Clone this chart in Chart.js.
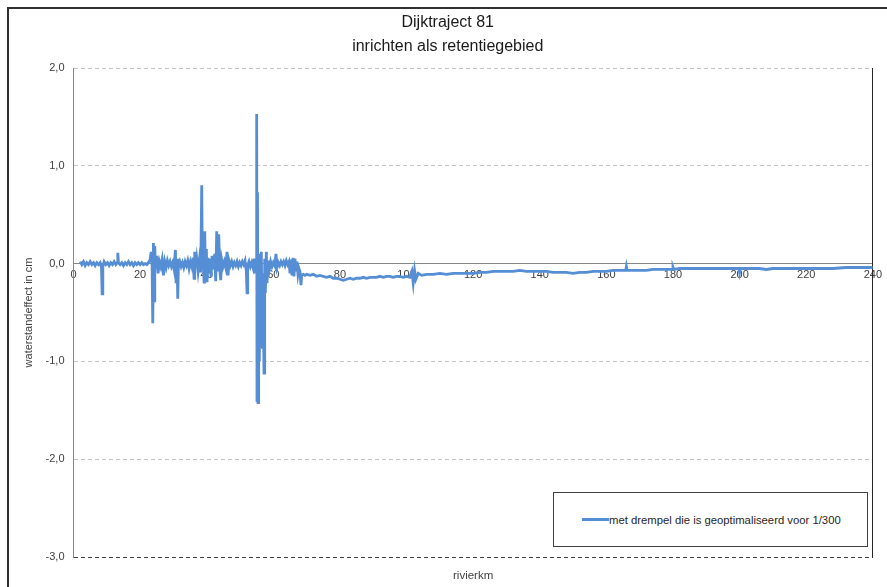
<!DOCTYPE html>
<html>
<head>
<meta charset="utf-8">
<title>Dijktraject 81</title>
<script src="https://cdn.jsdelivr.net/npm/chart.js@4.4.1/dist/chart.umd.min.js"></script>
<style>
  html, body { margin: 0; padding: 0; background: #fff; }
  #wrap { position: relative; width: 887px; height: 587px; overflow: hidden; }
  #frame {
    position: absolute; left: 7px; top: 7px; width: 920px; height: 620px;
    border-left: 2px solid #303030; border-top: 2px solid #303030;
  }
  canvas { position: absolute; left: 0; top: 0; }
  #legend {
    position: absolute; left: 553px; top: 492px; width: 313px; height: 53px;
    border: 1px solid #404040; background: #fff;
    font: 11.3px "Liberation Sans", Arial, sans-serif; color: #262626;
    display: flex; align-items: center;
  }
  #legend .swatch { width: 27px; height: 3px; background: #558ED5; margin-left: 28px; }
</style>
</head>
<body>
<div id="wrap">
  <div id="frame"></div>
  <canvas id="chart" width="887" height="587"></canvas>
  <div id="legend"><span class="swatch"></span><span id="legendText"></span></div>
</div>
<script>
// ---- data ----
const chartTitle = ["Dijktraject 81", "inrichten als retentiegebied"];
const seriesName = "met drempel die is geoptimaliseerd voor 1/300";
const xTitle = "rivierkm";
const yTitle = "waterstandeffect in cm";

// rivierkm
const km = [
  2, 2.5, 3, 3.5, 4, 4.5, 5, 5.5, 6, 6.5, 7, 7.5, 8, 8.4, 8.6, 8.8,
  9.2, 9.7, 10.2, 10.7, 11.2, 11.7, 12.2, 12.7, 13.1, 13.3, 13.5, 14, 14.5, 15, 15.5, 16,
  16.5, 17, 17.5, 18, 18.5, 19, 19.5, 20, 20.5, 21, 21.5, 22, 22.5, 23, 23.3, 23.6,
  23.8, 24, 24.2, 24.4, 24.6, 25, 25.4, 25.8, 26.2, 26.6, 27, 27.4, 27.8, 28.2, 28.6, 29,
  29.4, 29.8, 30.2, 30.6, 30.8, 31.1, 31.3, 31.5, 31.9, 32.3, 32.7, 33.1, 33.5, 33.9, 34.3, 34.7,
  35.1, 35.5, 35.9, 36.2, 36.4, 36.7, 37, 37.4, 37.8, 38.2, 38.5, 38.7, 39, 39.2, 39.4, 39.6,
  39.9, 40.1, 40.4, 40.7, 41, 41.3, 41.6, 42, 42.4, 42.7, 43, 43.3, 43.6, 43.9, 44.2, 44.5,
  44.9, 45.3, 45.7, 46.1, 46.4, 46.7, 47.1, 47.5, 47.9, 48.3, 48.7, 49.1, 49.5, 49.9, 50.3, 50.7,
  51.1, 51.5, 51.9, 52.1, 52.3, 52.7, 53.1, 53.5, 53.9, 54.2, 54.5, 54.8, 55, 55.1, 55.25, 55.4,
  55.6, 55.8, 56, 56.2, 56.4, 56.7, 56.9, 57.2, 57.4, 57.6, 57.9, 58.1, 58.4, 58.8, 59.2, 59.6,
  60, 60.4, 60.8, 61.1, 61.5, 61.9, 62.3, 62.7, 63.1, 63.5, 63.9, 64.3, 64.7, 65, 65.3, 65.6,
  65.9, 66.2, 66.5, 66.8, 67.1, 67.4, 67.7, 68, 68.3, 68.5, 69, 69.5, 70, 71, 72, 73,
  74, 75, 76, 77, 78, 79, 80, 81, 82, 83, 84, 85, 86, 87, 88, 89,
  90, 91, 92, 93, 94, 95, 96, 97, 98, 99, 100, 101, 101.6, 102, 102.4, 102.8,
  103.5, 104.5, 106, 108, 110, 112, 114, 116, 118, 120, 122, 124, 126, 128, 130, 132,
  134, 136, 138, 140, 142, 144, 146, 148, 150, 152, 154, 156, 158, 160, 162, 164,
  165.8, 166, 166.2, 168, 170, 172, 174, 176, 178, 179.8, 180, 180.2, 182, 185, 188, 190,
  193, 196, 199.8, 200, 200.2, 203, 206, 208, 210, 213, 216, 220, 224, 228, 232, 236,
  240
];

// waterstandeffect (cm)
const effect = [
  0.02, -0.01, 0.02, -0.02, 0.01, -0.01, 0.02, -0.01, 0.01, -0.02, 0.01, -0.01, 0.01, -0.04, -0.31, -0.03,
  0.02, -0.01, 0.01, -0.02, 0.01, -0.01, 0.02, -0.01, 0.01, 0.11, 0.01, -0.01, 0.01, -0.02, 0.01, -0.01,
  0.02, -0.01, 0.01, -0.02, 0.01, -0.01, 0.01, -0.01, 0.01, -0.01, 0.00, -0.01, 0.01, 0.04, 0.12, -0.02,
  -0.61, 0.21, -0.38, 0.18, -0.05, 0.08, -0.10, 0.02, -0.03, 0.04, -0.12, 0.02, -0.04, 0.03, -0.02, 0.02,
  -0.03, 0.01, -0.06, 0.14, -0.20, 0.05, -0.36, -0.02, 0.02, -0.03, 0.01, -0.04, 0.02, -0.02, 0.03, -0.05,
  0.02, -0.03, 0.06, -0.15, 0.12, -0.04, 0.05, -0.08, 0.04, -0.09, 0.80, -0.05, 0.02, -0.19, 0.33, -0.10,
  0.15, -0.19, 0.06, -0.10, 0.05, -0.14, 0.08, -0.06, 0.10, -0.18, 0.33, -0.08, 0.30, -0.05, -0.17, 0.04,
  -0.03, 0.02, -0.04, 0.12, -0.12, 0.03, -0.02, 0.02, -0.03, 0.01, -0.02, 0.02, -0.03, 0.01, -0.02, 0.02,
  -0.01, 0.03, -0.08, -0.30, -0.02, 0.02, -0.03, 0.01, -0.04, 0.05, -0.10, 0.03, 1.53, -1.40, 0.73, -1.42,
  0.10, -1.00, 0.05, -0.85, 0.12, -0.87, -0.10, -1.12, 0.05, -0.30, 0.12, -0.20, 0.03, -0.06, 0.02, -0.03,
  0.01, -0.02, 0.10, -0.04, 0.01, -0.02, 0.02, -0.01, 0.02, -0.02, 0.03, -0.01, 0.02, -0.10, 0.04, -0.12,
  0.06, -0.13, 0.05, -0.08, 0.02, -0.11, -0.05, -0.08, -0.22, -0.12, -0.11, -0.12, -0.11, -0.12, -0.11, -0.13,
  -0.12, -0.13, -0.14, -0.13, -0.15, -0.15, -0.16, -0.17, -0.16, -0.15, -0.16, -0.15, -0.15, -0.14, -0.15, -0.14,
  -0.14, -0.14, -0.13, -0.14, -0.13, -0.13, -0.14, -0.13, -0.13, -0.14, -0.13, -0.14, -0.08, -0.20, -0.07, -0.16,
  -0.10, -0.12, -0.11, -0.11, -0.10, -0.11, -0.10, -0.10, -0.10, -0.10, -0.09, -0.09, -0.08, -0.08, -0.08, -0.08,
  -0.07, -0.08, -0.08, -0.08, -0.08, -0.09, -0.09, -0.09, -0.10, -0.09, -0.09, -0.08, -0.08, -0.08, -0.07, -0.07,
  -0.07, -0.03, -0.07, -0.07, -0.07, -0.07, -0.06, -0.06, -0.06, -0.06, -0.04, -0.06, -0.05, -0.05, -0.05, -0.05,
  -0.05, -0.05, -0.05, -0.09, -0.05, -0.05, -0.05, -0.06, -0.05, -0.05, -0.05, -0.05, -0.05, -0.05, -0.04, -0.04,
  -0.04
];

const yMin = -3, yMax = 2, yStep = 1;
const xMin = 0, xMax = 240, xStep = 20;

// ---- chart ----
const FONT = "'Liberation Sans', Arial, sans-serif";
const TEXT = "#404040";

document.getElementById("legendText").textContent = seriesName;

const points = km.map((k, i) => ({ x: k, y: effect[i] }));

new Chart(document.getElementById("chart"), {
  type: "line",
  data: {
    datasets: [{
      label: seriesName,
      data: points,
      borderColor: "#558ED5",
      borderWidth: 2.8,
      pointRadius: 0,
      tension: 0,
      xAxisID: "x",
      yAxisID: "y"
    }]
  },
  options: {
    responsive: false,
    animation: false,
    layout: { padding: { left: 8.5, right: 0, top: 0, bottom: 0 } },
    plugins: {
      legend: { display: false },
      tooltip: { enabled: false },
      title: {
        display: true,
        text: chartTitle,
        color: "#1a1a1a",
        font: { family: FONT, size: 16, weight: "normal", lineHeight: 1.45 },
        padding: { top: 11.4, bottom: 10.2 }
      }
    },
    scales: {
      x: {
        type: "linear",
        position: { y: 0 },
        min: xMin, max: xMax,
        grid: { display: false, drawTicks: false },
        border: { display: true, color: "#868686", width: 1 },
        ticks: {
          stepSize: xStep, padding: 5, color: TEXT,
          font: { family: FONT, size: 11 },
          maxRotation: 0
        }
      },
      x2: {
        type: "linear",
        position: "bottom",
        min: xMin, max: xMax,
        grid: { display: false, drawTicks: false },
        border: { display: false },
        ticks: { display: false },
        title: {
          display: true, text: xTitle, color: TEXT,
          font: { family: FONT, size: 11.5 },
          padding: { top: 0, bottom: 4 }
        },
        afterFit: s => { s.height = 30; }
      },
      y: {
        type: "linear",
        position: "left",
        min: yMin, max: yMax,
        grid: {
          drawTicks: false,
          color: c => c.tick.value === 0 ? "rgba(0,0,0,0)" : (c.tick.value === yMin ? "#404040" : "#c4c4c4"),
          lineWidth: 1
        },
        border: { display: true, color: "#868686", width: 1, dash: [4, 3] },
        ticks: {
          stepSize: yStep, padding: 9, color: TEXT,
          font: { family: FONT, size: 11 },
          callback: v => v.toFixed(1).replace(".", ",")
        },
        title: {
          display: true, text: yTitle, color: TEXT,
          font: { family: FONT, size: 11 },
          padding: { top: 13.4, bottom: 0 }
        },
        afterFit: s => { s.width = 65; }
      },
      y2: {
        type: "linear",
        position: "right",
        min: yMin, max: yMax,
        grid: { display: false, drawTicks: false },
        border: { display: true, color: "#262626", width: 1 },
        ticks: { display: false },
        afterFit: s => { s.width = 12; }
      }
    }
  }
});
</script>
</body>
</html>
